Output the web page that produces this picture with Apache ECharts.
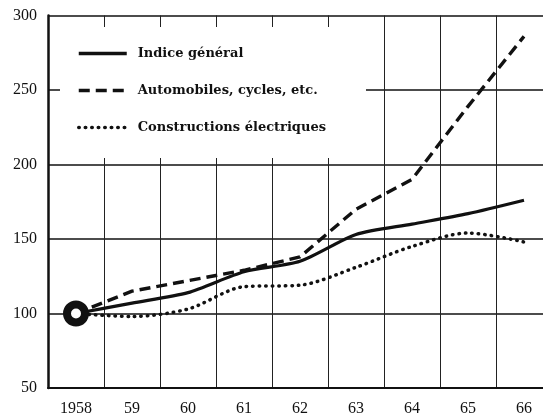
<!DOCTYPE html>
<html>
<head>
<meta charset="utf-8">
<script src="https://cdn.jsdelivr.net/npm/echarts@6/dist/echarts.min.js"></script>
<style>
  html, body { margin: 0; padding: 0; background: #fff; }
  #chart { width: 543px; height: 419px; }
</style>
</head>
<body>
<div id="chart"></div>
<script>
// années (axe horizontal)
var years = ['1958', '59', '60', '61', '62', '63', '64', '65', '66']
// indices, base 100 en 1958
var indiceGeneral = [100, 107, 114, 128, 135, 153, 160, 167, 176]
var automobiles = [100, 115, 122, 129, 138, 170, 190, 239, 286]
var electriques = [100, 98, 103, 118, 119, 131, 145, 154, 148]
var yTicks = [50, 100, 150, 200, 250, 300]

var serif = '"Liberation Serif", "DejaVu Serif", serif'

var myChart = echarts.init(document.getElementById('chart'))
var option = {
  backgroundColor: '#fff',
  animation: false,
  grid: {
    left: 48,
    top: 15.5,
    right: -9,
    bottom: 31,
    outerBoundsMode: 'none',
    containLabel: false
  },
  legend: {
    data: ['Indice général', 'Automobiles, cycles, etc.', 'Constructions électriques'],
    orient: 'vertical',
    left: 60,
    top: 27,
    padding: [20, 40, 24, 17],
    backgroundColor: '#fff',
    itemWidth: 48,
    itemHeight: 14,
    itemGap: 24,
    itemStyle: { opacity: 0 },
    lineStyle: { width: 3.5 },
    textStyle: {
      fontFamily: '"DejaVu Serif", serif',
      fontSize: 13,
      fontWeight: 'bold',
      color: '#111',
      padding: [0, 0, 0, 6]
    }
  },
  xAxis: {
    type: 'category',
    data: years,
    boundaryGap: true,
    axisLine: { lineStyle: { color: '#111', width: 2 } },
    axisTick: { show: false },
    axisLabel: {
      interval: 0,
      margin: 13,
      fontFamily: serif,
      fontSize: 16,
      color: '#111'
    },
    splitLine: {
      show: true,
      interval: 0,
      lineStyle: { color: '#222', width: 1 }
    }
  },
  yAxis: {
    type: 'value',
    min: yTicks[0],
    max: yTicks[yTicks.length - 1],
    interval: 50,
    axisLine: { show: true, lineStyle: { color: '#111', width: 2.5 } },
    axisTick: { show: false },
    axisLabel: {
      margin: 11,
      fontFamily: serif,
      fontSize: 16,
      color: '#111'
    },
    splitLine: { lineStyle: { color: '#111', width: 1.6 } }
  },
  series: [
    {
      name: 'Indice général',
      type: 'line',
      data: indiceGeneral,
      symbol: 'none',
      smooth: 0.25,
      itemStyle: { color: '#111' },
      lineStyle: { color: '#111', width: 3.2 }
    },
    {
      name: 'Automobiles, cycles, etc.',
      type: 'line',
      data: automobiles,
      symbol: 'none',
      smooth: false,
      itemStyle: { color: '#111' },
      lineStyle: { color: '#111', width: 3.4, type: [11, 6] }
    },
    {
      name: 'Constructions électriques',
      type: 'line',
      data: electriques,
      symbol: 'none',
      smooth: 0.3,
      itemStyle: { color: '#111' },
      lineStyle: { color: '#111', width: 3.5, type: [0.5, 6], cap: 'round' }
    },
    {
      // cercle de départ (base 100)
      name: 'base',
      type: 'scatter',
      data: [indiceGeneral[0]],
      symbol: 'circle',
      symbolSize: 18,
      z: 5,
      itemStyle: { color: '#fff', borderColor: '#111', borderWidth: 8, opacity: 1 }
    }
  ]
}
myChart.setOption(option)
</script>
</body>
</html>
